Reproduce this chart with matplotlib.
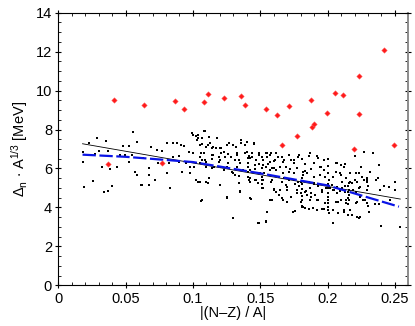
import matplotlib
matplotlib.use("Agg")
import matplotlib.pyplot as plt
import numpy as np
from matplotlib.ticker import MultipleLocator

plt.rcParams["font.family"] = ["Liberation Sans", "DejaVu Sans"]
plt.rcParams["mathtext.fontset"] = "custom"
plt.rcParams["mathtext.rm"] = "Liberation Sans"
plt.rcParams["mathtext.default"] = "regular"

# black points: all nuclei, (|N-Z|/A, Delta_n * A^(1/3))
nuclei_light = [
    (0.018, 6.86), (0.0186, 6.31), (0.0193, 5.03), (0.023, 7.29), (0.0255, 5.35),
    (0.0273, 6.72), (0.0285, 7.55), (0.0305, 6.91), (0.0322, 6.09), (0.0342, 4.81),
    (0.0354, 7.41), (0.0372, 6.91), (0.0372, 4.84), (0.0384, 5.95), (0.0397, 5.10),
    (0.0434, 6.06), (0.0458, 6.69), (0.0478, 7.15), (0.0496, 6.69), (0.0525, 7.15),
    (0.0525, 6.35), (0.0553, 7.89), (0.0545, 6.69), (0.057, 5.83), (0.0587, 7.34),
    (0.0587, 5.66), (0.0612, 5.15), (0.0627, 6.52),
    (0.069, 7.08), (0.073, 6.95), (0.077, 6.91), (0.081, 7.32), (0.085, 7.32),
    (0.088, 7.29), (0.091, 7.20), (0.093, 7.15), (0.099, 7.80), (0.102, 7.66),
    (0.104, 7.72), (0.107, 7.55), (0.105, 7.20), (0.097, 6.86), (0.100, 6.78),
    (0.090, 6.64), (0.085, 6.57), (0.105, 6.60), (0.063, 6.52), (0.067, 6.00),
    (0.074, 6.26), (0.082, 6.26), (0.090, 6.35), (0.095, 6.26), (0.102, 6.26),
    (0.0805, 5.75), (0.092, 5.83), (0.098, 6.09), (0.067, 5.66), (0.098, 5.75),
    (0.062, 5.15), (0.067, 5.15), (0.072, 5.41), (0.102, 5.41), (0.104, 5.32),
    (0.083, 4.98), (0.107, 4.38),
]

nuclei_mid = [
    (0.100, 7.72), (0.101, 6.09), (0.102, 5.41), (0.104, 7.55), (0.103, 7.46),
    (0.105, 6.26), (0.105, 5.32), (0.106, 4.35), (0.106, 6.78), (0.107, 6.44),
    (0.108, 7.94), (0.109, 6.44), (0.110, 6.09), (0.110, 7.12), (0.111, 5.27),
    (0.112, 5.49), (0.112, 7.63), (0.113, 7.29), (0.114, 6.71), (0.114, 6.49),
    (0.115, 7.12), (0.116, 6.09), (0.117, 7.03), (0.118, 7.58), (0.119, 6.61),
    (0.120, 6.44), (0.121, 7.03), (0.121, 6.09), (0.123, 6.86), (0.124, 6.61),
    (0.125, 4.50), (0.125, 6.09), (0.126, 6.74), (0.127, 7.33), (0.128, 6.61),
    (0.129, 5.84), (0.130, 3.44), (0.131, 6.44), (0.132, 7.12), (0.133, 6.78),
    (0.133, 6.09), (0.134, 5.61), (0.134, 6.44), (0.135, 4.81), (0.136, 7.46),
    (0.137, 5.92), (0.139, 7.21), (0.140, 7.38), (0.140, 6.86), (0.141, 6.09),
    (0.142, 5.41), (0.142, 6.66), (0.143, 4.45), (0.144, 6.81), (0.144, 6.61),
    (0.145, 7.24), (0.146, 5.96), (0.147, 5.41), (0.147, 6.44), (0.148, 5.24),
    (0.148, 3.22), (0.149, 6.78), (0.149, 6.23), (0.150, 5.75),
    (0.141, 6.55), (0.141, 6.30), (0.141, 5.82), (0.141, 5.58),
    (0.109, 7.92), (0.118, 7.55), (0.107, 7.25), (0.111, 7.20), (0.114, 7.03),
    (0.120, 7.03), (0.125, 7.20), (0.130, 7.20), (0.136, 7.29), (0.145, 7.29),
    (0.108, 6.78), (0.115, 6.69), (0.121, 6.78), (0.128, 6.60), (0.133, 6.69),
    (0.139, 6.78), (0.1425, 6.52), (0.149, 6.69), (0.110, 6.35), (0.119, 6.35),
    (0.126, 6.26), (0.135, 6.26), (0.146, 6.18), (0.114, 6.00), (0.123, 5.92),
    (0.130, 5.75), (0.1425, 5.92), (0.1425, 5.49), (0.1425, 5.32), (0.146, 5.41),
    (0.110, 5.32), (0.131, 5.66), (0.134, 5.24), (0.120, 5.15), (0.135, 4.86),
    (0.125, 4.52), (0.1425, 4.47), (0.130, 3.44), (0.149, 3.21),
]

nuclei_heavy = [
    (0.151, 6.61), (0.151, 6.01), (0.152, 5.41), (0.152, 6.18), (0.153, 5.78),
    (0.154, 3.30), (0.154, 6.78), (0.155, 6.61), (0.155, 3.75), (0.156, 6.21),
    (0.157, 5.92), (0.157, 6.69), (0.158, 5.32), (0.159, 4.38), (0.159, 6.01),
    (0.160, 4.93), (0.160, 6.40), (0.161, 6.44), (0.162, 4.81), (0.162, 5.92),
    (0.163, 6.61), (0.164, 4.62), (0.165, 6.09), (0.166, 5.32), (0.166, 6.61),
    (0.167, 4.38), (0.167, 5.75), (0.168, 6.44), (0.169, 5.15), (0.169, 6.09),
    (0.170, 4.89), (0.171, 6.69), (0.171, 5.41), (0.172, 5.96), (0.173, 6.44),
    (0.173, 4.55), (0.174, 3.78), (0.175, 5.75), (0.175, 6.26), (0.176, 5.20),
    (0.177, 4.72), (0.177, 6.01), (0.178, 6.61), (0.178, 5.32), (0.179, 5.10),
    (0.180, 4.30), (0.180, 4.72), (0.181, 4.07), (0.182, 5.66), (0.182, 4.04),
    (0.183, 6.23), (0.183, 5.87), (0.184, 4.84), (0.185, 4.64), (0.186, 6.66),
    (0.186, 5.32), (0.187, 4.38), (0.188, 5.96), (0.188, 4.72), (0.189, 3.95),
    (0.190, 5.20), (0.190, 5.58), (0.191, 4.64), (0.192, 3.87), (0.192, 6.66),
    (0.193, 5.10), (0.193, 4.38), (0.194, 5.66), (0.195, 6.09), (0.196, 4.81),
    (0.197, 3.90), (0.197, 6.44), (0.198, 5.58), (0.198, 4.21), (0.199, 4.98),
    (0.181, 5.50), (0.181, 5.20), (0.181, 4.95), (0.181, 4.60),
    (0.151, 5.20), (0.151, 5.00), (0.151, 5.55),
    (0.155, 6.78), (0.158, 6.78), (0.162, 6.78), (0.152, 6.43), (0.157, 6.35),
    (0.161, 6.43), (0.166, 6.60), (0.167, 6.35), (0.175, 6.43), (0.179, 6.69),
    (0.181, 6.47), (0.187, 6.78), (0.190, 6.26), (0.193, 6.52), (0.154, 6.09),
    (0.160, 6.00), (0.171, 5.83), (0.182, 5.83), (0.185, 5.75), (0.151, 5.41),
    (0.159, 5.41), (0.164, 5.58), (0.168, 5.49), (0.175, 5.41), (0.180, 5.32),
    (0.190, 5.24), (0.152, 4.98), (0.160, 4.89), (0.165, 4.89), (0.170, 5.06),
    (0.177, 4.89), (0.183, 4.81), (0.187, 4.98), (0.157, 4.38), (0.166, 4.47),
    (0.173, 4.55), (0.181, 4.38), (0.188, 4.55), (0.170, 4.29), (0.181, 4.04),
    (0.183, 3.95), (0.186, 3.90), (0.155, 3.78), (0.176, 3.83), (0.154, 3.27),
]

nuclei_rich = [
    (0.200, 5.75), (0.200, 4.38), (0.200, 4.72), (0.200, 5.20), (0.200, 4.98),
    (0.200, 4.55), (0.200, 4.21), (0.200, 4.04), (0.200, 3.87),
    (0.201, 5.41), (0.201, 3.70), (0.202, 4.98), (0.203, 5.15), (0.204, 3.22),
    (0.204, 5.58), (0.205, 4.89), (0.206, 4.30), (0.206, 6.30), (0.207, 5.07),
    (0.207, 4.72), (0.208, 3.70), (0.209, 4.84), (0.209, 5.75), (0.210, 4.38),
    (0.210, 6.18), (0.211, 5.32), (0.212, 3.87), (0.212, 6.09), (0.213, 4.81),
    (0.213, 5.10), (0.214, 4.21), (0.214, 5.49), (0.215, 3.61), (0.216, 4.64),
    (0.216, 4.38), (0.217, 5.32), (0.217, 3.87), (0.218, 5.24), (0.219, 4.89),
    (0.220, 6.66), (0.220, 5.41), (0.221, 4.21), (0.221, 4.81), (0.222, 3.53),
    (0.223, 5.75), (0.223, 3.44), (0.224, 5.07), (0.224, 4.55), (0.225, 6.09),
    (0.226, 4.38), (0.227, 5.41), (0.227, 6.86),
    (0.215, 5.10), (0.215, 4.80), (0.215, 4.50), (0.215, 4.20),
    (0.193, 6.55), (0.200, 6.47), (0.200, 6.12), (0.207, 6.26), (0.213, 6.23),
    (0.194, 6.09), (0.197, 5.92), (0.200, 5.75), (0.206, 5.83), (0.210, 5.66),
    (0.217, 5.75), (0.221, 5.75), (0.222, 5.32), (0.2156, 5.27), (0.2255, 5.54),
    (0.229, 5.41), (0.193, 5.15), (0.200, 5.15), (0.196, 4.89), (0.204, 4.89),
    (0.211, 4.98), (0.2156, 4.89), (0.223, 4.98), (0.192, 4.38), (0.200, 4.38),
    (0.208, 4.29), (0.214, 4.38), (0.222, 4.29), (0.228, 4.38), (0.196, 3.90),
    (0.204, 3.87), (0.212, 3.78), (0.218, 3.61), (0.224, 3.49), (0.204, 3.18),
    (0.230, 4.07),
    (0.2334, 6.78), (0.238, 6.18), (0.2317, 5.80), (0.2374, 5.49), (0.236, 5.41),
    (0.2416, 5.10), (0.2453, 5.03), (0.2498, 5.29), (0.2498, 4.89), (0.239, 4.89),
    (0.2465, 4.38), (0.2304, 3.78), (0.2353, 4.17), (0.2379, 4.16), (0.2398, 3.04),
    (0.2535, 2.98), (0.229, 5.50), (0.229, 5.30), (0.230, 5.10), (0.229, 4.90),
    (0.2292, 4.24),
]

# red diamonds
outlier_x = [0.0416, 0.0637, 0.0369, 0.0768, 0.0867, 0.0932, 0.108, 0.111, 0.123,
             0.136, 0.139, 0.1546, 0.1625, 0.171, 0.1665, 0.1774, 0.188, 0.1886,
             0.190, 0.1997, 0.2056, 0.2113, 0.2193, 0.2230, 0.2235, 0.242, 0.2495]
outlier_y = [9.52, 9.24, 6.21, 6.26, 9.45, 9.05, 9.43, 9.81, 9.60,
             9.70, 9.24, 9.07, 8.76, 9.21, 7.19, 7.65, 9.50, 8.13,
             8.30, 8.83, 9.89, 9.76, 7.02, 8.81, 10.77, 12.08, 7.22]

# fits
linear_x = [0.018, 0.254]
linear_y = [7.27, 4.43]
model_x = [0.018, 0.05, 0.10, 0.15, 0.20, 0.253]
model_y = [6.71, 6.60, 6.33, 5.75, 5.13, 4.04]

fig = plt.figure(figsize=(4.15, 3.26), dpi=100)
ax = fig.add_axes([0.1405, 0.1248, 0.8435, 0.8362])

pts = np.array(nuclei_light + nuclei_mid + nuclei_heavy + nuclei_rich)
ax.scatter(pts[:, 0], pts[:, 1], s=4, marker="s", color="black", linewidths=0, zorder=2)
ax.plot(linear_x, linear_y, color="black", lw=0.6, zorder=3)
ax.plot(model_x, model_y, color="#0a14e6", lw=1.6, dashes=(6, 1.6), zorder=3)
ax.plot(outlier_x, outlier_y, "D", color="#ff1a1a", ms=2.8, mew=0.3, mec="#ff6060", zorder=4)

ax.set_xlim(0, 0.26)
ax.set_ylim(0, 14)
ax.xaxis.set_minor_locator(MultipleLocator(0.01))
ax.yaxis.set_major_locator(MultipleLocator(2))
ax.yaxis.set_minor_locator(MultipleLocator(0.5))
ax.set_xticks([0, 0.05, 0.1, 0.15, 0.2, 0.25])
ax.set_xticklabels(["0", "0.05", "0.1", "0.15", "0.2", "0.25"])
ax.tick_params(which="major", direction="inout", length=5, width=0.8, labelsize=10.5,
               top=True, right=True, pad=2)
ax.tick_params(which="minor", direction="in", length=2.5, width=0.6, top=True, right=True)
ax.spines["right"].set_color("#8c8c8c")
ax.spines["right"].set_linewidth(1.4)

ax.set_xlabel("|(N\u2013Z) / A|", fontsize=10.5, labelpad=0)
ax.set_ylabel(r"$\Delta_{n}$ $\cdot$ A$^{1/3}$ [MeV]", fontsize=10.5, labelpad=4)

fig.savefig("out.png", dpi=100)
